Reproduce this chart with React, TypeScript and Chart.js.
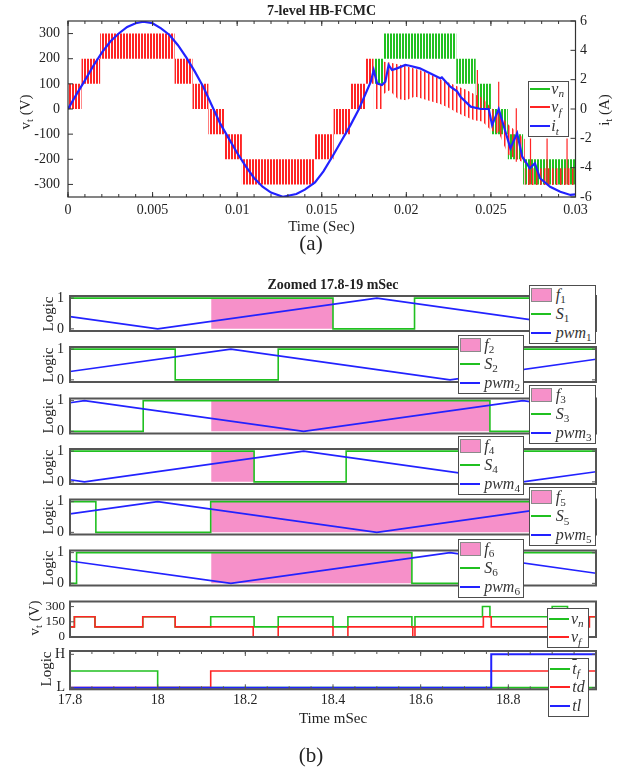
import React, { useEffect, useRef } from 'react';
import { Chart, registerables } from 'chart.js';

Chart.register(...registerables);

const SERIF = '"Liberation Serif", "Times New Roman", Times, serif';
const W = 638;
const GREEN = '#20c020';
const RED = '#ff2424';
const BLUE = '#2222ff';
const PINK = '#f690c9';
const TEXT = '#222222';
Chart.defaults.font.family = SERIF;
Chart.defaults.color = TEXT;

/* ================= (a) 7-level HB-FCMC ================= */
const aTimeTicks = [0, 0.005, 0.01, 0.015, 0.02, 0.025, 0.03];
const aTimeLabels = ['0', '0.005', '0.01', '0.015', '0.02', '0.025', '0.03'];
const aVoltTicks = [-300, -200, -100, 0, 100, 200, 300];
const aVoltLabels = ['-300', '-200', '-100', '0', '100', '200', '300'];
const aCurrTicks = [-6, -4, -2, 0, 2, 4, 6];
const aCurrLabels = ['-6', '-4', '-2', '0', '2', '4', '6'];

// v_f : PWM band boundaries (s) and the two levels switched within each band (V)
const vfLevelT = [0, 0.0008, 0.0019, 0.0063, 0.00736, 0.0083, 0.00923, 0.01028, 0.0146, 0.0157, 0.0167, 0.0176, 0.01807];
const vfLevelLo = [0, 100, 200, 100, 0, -100, -200, -300, -200, -100, 0, 100];
const vfLevelHi = [100, 200, 300, 200, 100, 0, -100, -200, -100, 0, 100, 200];

// v_f during the fault (envelope of the switching lines)
const vfFaultT = [0.01807, 0.01864, 0.01866, 0.019, 0.0195, 0.02, 0.0205, 0.021, 0.0215, 0.022, 0.0225, 0.023, 0.0235, 0.024, 0.0245, 0.025, 0.0255, 0.026, 0.0265, 0.027, 0.027, 0.03];
const vfFaultTop = [100, 100, 188, 185, 178, 170, 160, 150, 135, 118, 105, 90, 78, 60, 45, 5, -20, -60, -90, -120, -236, -236];
const vfFaultBot = [0, 0, 60, 75, 40, 35, 50, 40, 30, 20, 5, -15, -30, -45, -50, -85, -100, -180, -200, -215, -302, -302];

// isolated v_f spikes
const vfSpikeT = [0.0242, 0.02546, 0.0265, 0.02734, 0.02832, 0.0295];
const vfSpikeTop = [155, 108, 3, -117, -117, -117];
const vfSpikeBot = [0, -90, -210, -300, -300, -300];

// v_n : PWM bands after the fault
const vnLevelT = [0.01807, 0.01866, 0.02295, 0.0241, 0.025, 0.026, 0.0269, 0.03];
const vnLevelLo = [100, 200, 100, 0, -100, -200, -300];
const vnLevelHi = [200, 300, 200, 100, 0, -100, -200];

// i_t load current (s, A)
const itT = [0, 0.0005, 0.001, 0.0015, 0.002, 0.0025, 0.003, 0.0035, 0.004, 0.00445, 0.005, 0.0055, 0.006, 0.0065, 0.007, 0.0075, 0.008, 0.0086, 0.009, 0.0095, 0.01, 0.0105, 0.011, 0.0115, 0.012, 0.0127, 0.0135, 0.014, 0.0146, 0.0151, 0.0157, 0.0162, 0.0167, 0.0172, 0.0179, 0.01807, 0.01827, 0.01856, 0.01876, 0.01895, 0.01915, 0.01945, 0.01994, 0.0202, 0.0208, 0.0214, 0.022, 0.0221, 0.0226, 0.023, 0.0232, 0.0238, 0.0244, 0.02487, 0.02507, 0.02546, 0.02586, 0.02615, 0.02655, 0.02685, 0.0273, 0.0276, 0.0279, 0.0285, 0.0291, 0.0297, 0.03];
const itA = [0, 1.0, 1.95, 2.95, 3.85, 4.6, 5.15, 5.6, 5.85, 5.95, 5.85, 5.5, 5.05, 4.35, 3.5, 2.55, 1.5, 0, -1.0, -2.0, -3.0, -3.9, -4.7, -5.3, -5.7, -5.98, -5.8, -5.5, -5.0, -4.25, -3.1, -2.1, -1.1, 0, 1.86, 2.66, 1.75, 1.64, 1.86, 3.0, 2.66, 2.77, 3.0, 2.95, 2.77, 2.43, 2.09, 2.15, 1.52, 1.2, 0.84, 0.16, 0.0, 0.0, -1.1, 0.0, -1.55, -2.68, -1.66, -3.25, -4.04, -3.7, -4.72, -5.3, -5.64, -5.86, -5.82];

/* ================= (b) Zoomed 17.8-19 mSec ================= */
const bTimeTicks = [17.8, 18, 18.2, 18.4, 18.6, 18.8];
const bTimeLabels = ['17.8', '18', '18.2', '18.4', '18.6', '18.8'];
const logicTicks = [0, 1];
const logicLabels = ['0', '1'];
const vtTicks = [0, 150, 300];
const vtLabels = ['0', '150', '300'];
const hlTicks = [0, 1];
const hlLabels = ['L', 'H'];

// fault flags f_k: shaded interval [start, end] (mSec)
const f1Span = [18.122, 18.4];
const f2Span: number[] = [];
const f3Span = [18.122, 18.758];
const f4Span = [18.122, 18.22];
const f5Span = [18.122, 19.0];
const f6Span = [18.122, 18.58];

// switch states S_k: change instants and levels
const s1T = [17.8, 18.4, 18.586]; const s1V = [1, 0, 1];
const s2T = [17.8, 18.04, 18.275]; const s2V = [1, 0, 1];
const s3T = [17.8, 17.967, 18.758]; const s3V = [0, 1, 0];
const s4T = [17.8, 18.22, 18.43]; const s4V = [1, 0, 1];
const s5T = [17.8, 17.859, 18.121]; const s5V = [1, 0, 1];
const s6T = [17.8, 17.815, 18.58, 18.72]; const s6V = [0, 1, 0, 1];

// carriers pwm_k: vertices
const pwm1T = [17.8, 18.0, 18.5, 19.0]; const pwm1V = [0.4, 0, 1, 0];
const pwm2T = [17.8, 18.167, 18.667, 19.0]; const pwm2V = [0.27, 1, 0, 0.67];
const pwm3T = [17.8, 17.833, 18.333, 18.833, 19.0]; const pwm3V = [0.93, 1, 0, 1, 0.67];
const pwm4T = [17.8, 17.833, 18.333, 18.833, 19.0]; const pwm4V = [0.07, 0, 1, 0, 0.33];
const pwm5T = [17.8, 18.0, 18.5, 19.0]; const pwm5V = [0.6, 1, 0, 1];
const pwm6T = [17.8, 18.167, 18.667, 19.0]; const pwm6V = [0.73, 0, 1, 0.33];

// output voltages (V)
const vnBT = [17.8, 17.81, 17.857, 17.966, 18.04, 18.121, 18.22, 18.275, 18.4, 18.434, 18.58, 18.587, 18.741, 18.758, 18.9, 18.935];
const vnBV = [100, 200, 100, 200, 100, 200, 100, 200, 100, 200, 100, 200, 300, 200, 300, 200];
const vfBT = [17.8, 17.81, 17.857, 17.966, 18.04, 18.218, 18.275, 18.4, 18.434, 18.582, 18.587, 18.743, 18.761, 18.985];
const vfBV = [100, 200, 100, 200, 100, 0, 100, 0, 100, 0, 100, 200, 100, 200];

// fault logic
const tfT = [17.8, 18.0]; const tfV = [0.5, 0];
const tdT = [17.8, 18.121]; const tdV = [0, 0.5];
const tlT = [17.8, 18.761]; const tlV = [0, 1];

const B_MIN = 17.8;
const B_MAX = 19.0;

/* ================= helpers ================= */
type Frame = { L: number; T: number; R: number; B: number };

const xy = (t: number[], v: number[]) => t.map((x, i) => ({ x, y: v[i] }));
const steps = (t: number[], v: number[]) => {
  const out: { x: number; y: number }[] = [];
  v.forEach((y, i) => { out.push({ x: t[i], y }, { x: t[i + 1], y }); });
  return out;
};
const stairs = (t: number[], v: number[], end: number) => [...xy(t, v), { x: end, y: v[v.length - 1] }];
const spikes = (t: number[], top: number[], bot: number[]) =>
  t.flatMap((x, i) => [{ x, y: top[i] }, { x, y: bot[i] }, { x, y: null as any }]);

function stripes(ctx: CanvasRenderingContext2D, color: string, period: number, on: number, half?: string) {
  const c = document.createElement('canvas');
  c.width = period; c.height = 2;
  const g = c.getContext('2d')!;
  g.fillStyle = color; g.fillRect(0, 0, on, 2);
  if (half) { g.fillStyle = half; g.fillRect(on, 0, 1, 2); }
  return ctx.createPattern(c, 'repeat')!;
}

type TickSpec = { axis: string; values: number[]; len: number; sides: string[] };
function frameTicks(lw: number, color: string, specs: TickSpec[]) {
  return {
    id: 'frameTicks',
    afterDatasetsDraw(chart: any) {
      const { ctx, chartArea: a, scales } = chart;
      ctx.save();
      ctx.strokeStyle = color;
      ctx.lineWidth = 1;
      ctx.beginPath();
      for (const sp of specs) {
        const sc = scales[sp.axis];
        for (const v of sp.values) {
          const p = sc.getPixelForValue(v);
          for (const side of sp.sides) {
            if (side === 'top') { ctx.moveTo(p, a.top); ctx.lineTo(p, a.top + sp.len); }
            if (side === 'bottom') { ctx.moveTo(p, a.bottom); ctx.lineTo(p, a.bottom - sp.len); }
            if (side === 'left') { ctx.moveTo(a.left, p); ctx.lineTo(a.left + sp.len, p); }
            if (side === 'right') { ctx.moveTo(a.right, p); ctx.lineTo(a.right - sp.len, p); }
          }
        }
      }
      ctx.stroke();
      ctx.lineWidth = lw;
      ctx.strokeRect(a.left, a.top, a.right - a.left, a.bottom - a.top);
      ctx.restore();
    },
  };
}

const fixTicks = (vals: number[]) => (s: any) => { s.ticks = vals.map((value) => ({ value })); };
const labelsOf = (labels: string[]) => (_v: any, i: number) => labels[i];
const noGrid = { grid: { display: false, drawTicks: false }, border: { display: false } };

function commonOptions(padding: any, scales: any) {
  return {
    responsive: false,
    maintainAspectRatio: false,
    animation: false,
    devicePixelRatio: 1,
    events: [],
    layout: { padding },
    plugins: { legend: { display: false }, tooltip: { enabled: false }, title: { display: false } },
    elements: { point: { radius: 0 }, line: { tension: 0 } },
    scales,
  };
}

type Builder = (ctx: CanvasRenderingContext2D, f: Frame, topSpace: number, bottomSpace: number) => any;

function ChartBox({ frame, padTop, padBottom, build }: { frame: Frame; padTop: number; padBottom: number; build: Builder }) {
  const ref = useRef<HTMLCanvasElement | null>(null);
  const top = Math.floor(frame.T - padTop);
  const bottom = Math.ceil(frame.B + padBottom);
  const height = bottom - top;
  useEffect(() => {
    const canvas = ref.current!;
    const ctx = canvas.getContext('2d')!;
    const chart = new Chart(canvas, build(ctx, frame, frame.T - top, bottom - frame.B));
    return () => chart.destroy();
  }, []);
  return <canvas ref={ref} width={W} height={height} style={{ position: 'absolute', left: 0, top, width: W, height }} />;
}

/* ---------- chart (a) ---------- */
const buildA: Builder = (ctx, f, topSpace, bottomSpace) => {
  const dense = stripes(ctx, RED, 3, 2);
  const sparse = stripes(ctx, RED, 4, 1, 'rgba(255,36,36,0.5)');
  const gDense = stripes(ctx, GREEN, 3, 2);
  const edge = { yAxisID: 'yV', borderColor: 'rgba(0,0,0,0)', borderWidth: 0, fill: false };
  const minor: number[] = [];
  for (let k = 0; k <= 30; k++) minor.push(k / 1000);
  return {
    type: 'line',
    data: {
      datasets: [
        { data: xy(itT, itA), yAxisID: 'yI', borderColor: BLUE, borderWidth: 2.2, order: 1 },
        { data: spikes(vfSpikeT, vfSpikeTop, vfSpikeBot), yAxisID: 'yV', borderColor: RED, borderWidth: 1.2, order: 2 },
        { ...edge, data: xy(vfFaultT, vfFaultBot), order: 3 },
        { ...edge, data: xy(vfFaultT, vfFaultTop), fill: '-1', backgroundColor: sparse, order: 3 },
        { ...edge, data: steps(vfLevelT, vfLevelLo), order: 4 },
        { ...edge, data: steps(vfLevelT, vfLevelHi), fill: '-1', backgroundColor: dense, order: 4 },
        { ...edge, data: steps(vnLevelT, vnLevelLo), order: 5 },
        { ...edge, data: steps(vnLevelT, vnLevelHi), fill: '-1', backgroundColor: gDense, order: 5 },
      ],
    },
    options: commonOptions({ left: 0, right: 0, top: topSpace, bottom: 0 }, {
      x: {
        type: 'linear', min: 0, max: 0.03, ...noGrid,
        afterBuildTicks: fixTicks(aTimeTicks),
        ticks: { callback: labelsOf(aTimeLabels), padding: 4.6, font: { size: 14 }, color: TEXT, maxRotation: 0, autoSkip: false },
        afterFit: (s: any) => { s.height = bottomSpace; s.paddingLeft = 0; s.paddingRight = 0; },
      },
      yV: {
        type: 'linear', position: 'left', min: -350, max: 350, ...noGrid,
        afterBuildTicks: fixTicks(aVoltTicks),
        ticks: { callback: labelsOf(aVoltLabels), padding: 8, font: { size: 14 }, color: TEXT, autoSkip: false },
        afterFit: (s: any) => { s.width = f.L; s.paddingTop = 0; s.paddingBottom = 0; },
      },
      yI: {
        type: 'linear', position: 'right', min: -6, max: 6, ...noGrid,
        afterBuildTicks: fixTicks(aCurrTicks),
        ticks: { callback: labelsOf(aCurrLabels), padding: 4.5, font: { size: 14 }, color: TEXT, autoSkip: false },
        afterFit: (s: any) => { s.width = W - f.R; s.paddingTop = 0; s.paddingBottom = 0; },
      },
    }),
    plugins: [frameTicks(1.2, '#333', [
      { axis: 'x', values: minor, len: 3, sides: ['top', 'bottom'] },
      { axis: 'x', values: aTimeTicks, len: 5, sides: ['top', 'bottom'] },
      { axis: 'yV', values: aVoltTicks, len: 5, sides: ['left'] },
      { axis: 'yI', values: aCurrTicks, len: 5, sides: ['right'] },
    ])],
  };
};

/* ---------- charts (b) ---------- */
function buildB(opts: {
  datasets: any[]; showX: boolean; yMin: number; yMax: number; yTicks: number[]; yLabels: string[];
  yPad: number; yFont: number; ticks: TickSpec[];
}): Builder {
  return (_ctx, f, topSpace, bottomSpace) => ({
    type: 'line',
    data: { datasets: opts.datasets },
    options: commonOptions({ left: 0, right: W - f.R, top: topSpace, bottom: opts.showX ? 0 : bottomSpace }, {
      x: {
        type: 'linear', min: B_MIN, max: B_MAX, display: opts.showX, ...noGrid,
        afterBuildTicks: fixTicks(bTimeTicks),
        ticks: { callback: labelsOf(bTimeLabels), padding: 2.5, font: { size: 14 }, color: TEXT, maxRotation: 0, autoSkip: false },
        afterFit: (s: any) => { if (opts.showX) s.height = bottomSpace; s.paddingLeft = 0; s.paddingRight = 0; },
      },
      y: {
        type: 'linear', min: opts.yMin, max: opts.yMax, ...noGrid,
        afterBuildTicks: fixTicks(opts.yTicks),
        ticks: { callback: labelsOf(opts.yLabels), padding: opts.yPad, font: { size: opts.yFont }, color: TEXT, autoSkip: false },
        afterFit: (s: any) => { s.width = f.L; s.paddingTop = 0; s.paddingBottom = 0; },
      },
    }),
    plugins: [frameTicks(2, '#555', opts.ticks)],
  });
}

function logicBuilder(span: number[], sT: number[], sV: number[], pT: number[], pV: number[]): Builder {
  const ds: any[] = [
    { data: xy(pT, pV), borderColor: BLUE, borderWidth: 1.6, order: 1 },
    { data: stairs(sT, sV, B_MAX), borderColor: GREEN, borderWidth: 1.6, stepped: true, order: 2 },
  ];
  if (span.length === 2) {
    ds.push({ data: [{ x: span[0], y: 1 }, { x: span[1], y: 1 }], borderColor: 'rgba(0,0,0,0)', borderWidth: 0, backgroundColor: PINK, fill: 'origin', order: 3 });
  }
  return buildB({
    datasets: ds, showX: false, yMin: -0.07, yMax: 1.07, yTicks: logicTicks, yLabels: logicLabels, yPad: 6, yFont: 14,
    ticks: [{ axis: 'y', values: logicTicks, len: 4, sides: ['left', 'right'] }],
  });
}

const logicSets = [
  { span: f1Span, sT: s1T, sV: s1V, pT: pwm1T, pV: pwm1V },
  { span: f2Span, sT: s2T, sV: s2V, pT: pwm2T, pV: pwm2V },
  { span: f3Span, sT: s3T, sV: s3V, pT: pwm3T, pV: pwm3V },
  { span: f4Span, sT: s4T, sV: s4V, pT: pwm4T, pV: pwm4V },
  { span: f5Span, sT: s5T, sV: s5V, pT: pwm5T, pV: pwm5V },
  { span: f6Span, sT: s6T, sV: s6V, pT: pwm6T, pV: pwm6V },
];
const logicBuilders = logicSets.map((s) => logicBuilder(s.span, s.sT, s.sV, s.pT, s.pV));

const buildVt = buildB({
  datasets: [
    { data: stairs(vfBT, vfBV, B_MAX), borderColor: RED, borderWidth: 1.6, stepped: true, order: 1 },
    { data: stairs(vnBT, vnBV, B_MAX), borderColor: GREEN, borderWidth: 1.6, stepped: true, order: 2 },
  ],
  showX: false, yMin: 0, yMax: 350, yTicks: vtTicks, yLabels: vtLabels, yPad: 5, yFont: 13,
  ticks: [{ axis: 'y', values: vtTicks, len: 4, sides: ['left'] }],
});

const bMinor: number[] = [];
for (let k = 0; k <= 24; k++) bMinor.push(17.8 + k * 0.05);
const buildHL = buildB({
  datasets: [
    { data: stairs(tlT, tlV, B_MAX), borderColor: BLUE, borderWidth: 2, stepped: true, order: 1 },
    { data: stairs(tdT, tdV, B_MAX), borderColor: RED, borderWidth: 1.6, stepped: true, order: 2 },
    { data: stairs(tfT, tfV, B_MAX), borderColor: GREEN, borderWidth: 1.6, stepped: true, order: 3 },
  ],
  showX: true, yMin: -0.05, yMax: 1.1, yTicks: hlTicks, yLabels: hlLabels, yPad: 5, yFont: 14,
  ticks: [
    { axis: 'x', values: bMinor, len: 3, sides: ['top', 'bottom'] },
    { axis: 'x', values: bTimeTicks, len: 5, sides: ['top', 'bottom'] },
    { axis: 'y', values: hlTicks, len: 4, sides: ['left', 'right'] },
  ],
});

/* ---------- text & legends ---------- */
const Sb = ({ children, it = false }: { children: React.ReactNode; it?: boolean }) => (
  <span style={{ fontSize: '0.7em', position: 'relative', top: '0.3em', fontStyle: it ? 'italic' : 'normal' }}>{children}</span>
);

function Txt({ x, y, children, size = 15, bold = false, rotate = false }: { x: number; y: number; children: React.ReactNode; size?: number; bold?: boolean; rotate?: boolean }) {
  return (
    <div style={{ position: 'absolute', left: x, top: y, transform: `translate(-50%, -50%)${rotate ? ' rotate(-90deg)' : ''}`, fontFamily: SERIF, fontSize: size, fontWeight: bold ? 'bold' : 'normal', whiteSpace: 'nowrap', lineHeight: 1, color: TEXT }}>
      {children}
    </div>
  );
}

type Row = { kind: 'line' | 'patch'; color: string; label: React.ReactNode };
function LegendBox({ x, y, w, h, rows, offs, labelX = 25 }: { x: number; y: number; w: number; h: number; rows: Row[]; offs: number[]; labelX?: number }) {
  const bw = 1.5;
  return (
    <div style={{ position: 'absolute', left: x, top: y, width: w, height: h, boxSizing: 'border-box', border: `${bw}px solid #4d4d4d`, background: '#fff', fontFamily: SERIF, fontStyle: 'italic', fontSize: 16, color: '#333' }}>
      {rows.map((r, i) => {
        const cy = offs[i] - bw;
        return (
          <React.Fragment key={i}>
            {r.kind === 'line'
              ? <div style={{ position: 'absolute', left: 1, top: cy - 1, width: 20, height: 2, background: r.color }} />
              : <div style={{ position: 'absolute', left: 1, top: cy - 7, width: 21, height: 14, boxSizing: 'border-box', background: r.color, border: '1px solid #8a8a8a' }} />}
            <div style={{ position: 'absolute', left: labelX - bw, top: cy, transform: 'translateY(-50%)', lineHeight: 1, whiteSpace: 'nowrap' }}>{r.label}</div>
          </React.Fragment>
        );
      })}
    </div>
  );
}

const logicLegendRows = (k: number): Row[] => [
  { kind: 'patch', color: PINK, label: <>f<Sb>{k}</Sb></> },
  { kind: 'line', color: GREEN, label: <>S<Sb>{k}</Sb></> },
  { kind: 'line', color: BLUE, label: <>pwm<Sb>{k}</Sb></> },
];

const logicTops = [296, 347, 398.5, 449, 499.5, 550.5];
const logicLegendPos = [
  { x: 529.3, y: 285 }, { x: 457.7, y: 335 }, { x: 529.3, y: 385 },
  { x: 457.7, y: 436 }, { x: 529.3, y: 487.3 }, { x: 457.7, y: 539 },
];

export default function App() {
  return (
    <div style={{ position: 'absolute', left: 0, top: 0, width: W, height: 772, background: '#fff', overflow: 'hidden' }}>
      <ChartBox frame={{ L: 68, T: 21, R: 575.5, B: 197 }} padTop={21} padBottom={25} build={buildA} />
      {logicBuilders.map((b, i) => (
        <ChartBox key={i} frame={{ L: 70, T: logicTops[i], R: 596, B: logicTops[i] + 35 }} padTop={11} padBottom={11} build={b} />
      ))}
      <ChartBox frame={{ L: 70, T: 601.5, R: 596, B: 637 }} padTop={11} padBottom={11} build={buildVt} />
      <ChartBox frame={{ L: 70, T: 651, R: 596, B: 689.3 }} padTop={11} padBottom={24} build={buildHL} />

      <Txt x={321.5} y={10.5} size={14} bold>7-level HB-FCMC</Txt>
      <Txt x={25} y={112} rotate>v<Sb>t</Sb> (V)</Txt>
      <Txt x={604} y={110} rotate>i<Sb>t</Sb> (A)</Txt>
      <Txt x={321.5} y={226}>Time (Sec)</Txt>
      <Txt x={311} y={243} size={21}>(a)</Txt>

      <Txt x={333} y={285} size={14} bold>Zoomed 17.8-19 mSec</Txt>
      {logicTops.map((t, i) => (
        <Txt key={i} x={48} y={t + 17.5} rotate>Logic</Txt>
      ))}
      <Txt x={34} y={618} rotate>v<Sb>t</Sb> (V)</Txt>
      <Txt x={46} y={669} rotate>Logic</Txt>
      <Txt x={333} y={718}>Time mSec</Txt>
      <Txt x={311} y={755} size={21}>(b)</Txt>

      <LegendBox x={528.3} y={81} w={41} h={56} offs={[8.5, 26.9, 45.7]} labelX={23.5} rows={[
        { kind: 'line', color: GREEN, label: <>v<Sb it>n</Sb></> },
        { kind: 'line', color: RED, label: <>v<Sb it>f</Sb></> },
        { kind: 'line', color: BLUE, label: <>i<Sb it>t</Sb></> },
      ]} />
      {logicLegendPos.map((p, i) => (
        <LegendBox key={i} x={p.x} y={p.y} w={66.5} h={59} offs={[10.5, 29.5, 48.3]} labelX={27} rows={logicLegendRows(i + 1)} />
      ))}
      <LegendBox x={547} y={607.5} w={41.5} h={40} offs={[11.5, 30.2]} labelX={24.5} rows={[
        { kind: 'line', color: GREEN, label: <>v<Sb it>n</Sb></> },
        { kind: 'line', color: RED, label: <>v<Sb it>f</Sb></> },
      ]} />
      <LegendBox x={548.3} y={658} w={41} h={59.3} offs={[11.3, 29.3, 48.7]} labelX={24.5} rows={[
        { kind: 'line', color: GREEN, label: <><span style={{ textDecoration: 'overline' }}>t</span><Sb it>f</Sb></> },
        { kind: 'line', color: RED, label: <>td</> },
        { kind: 'line', color: BLUE, label: <>tl</> },
      ]} />
    </div>
  );
}
